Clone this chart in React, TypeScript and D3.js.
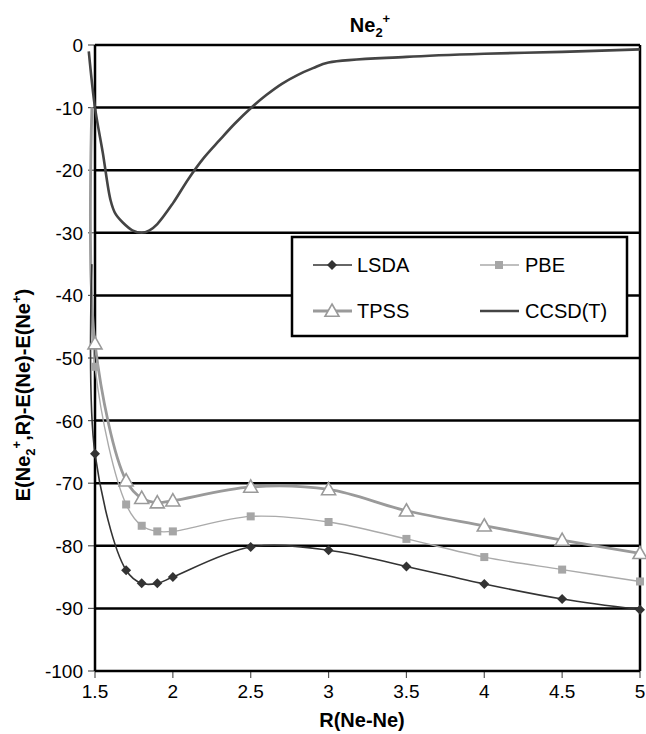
import React from 'react';
import * as d3 from 'd3';

// DFT curves (first point sits just left of the axis minimum, as in the original)
const dftR = [1.48, 1.5, 1.7, 1.8, 1.9, 2.0, 2.5, 3.0, 3.5, 4.0, 4.5, 5.0];
const lsda = [-35, -65.3, -83.9, -86.0, -86.0, -85.0, -80.2, -80.7, -83.3, -86.1, -88.5, -90.2];
const pbe = [-10, -51.4, -73.4, -76.8, -77.7, -77.7, -75.3, -76.2, -78.9, -81.8, -83.8, -85.7];
const tpss = [-10, -47.7, -69.6, -72.4, -73.1, -72.8, -70.6, -71.0, -74.4, -76.8, -79.1, -81.2];

const ccR = [1.46, 1.5, 1.55, 1.6, 1.63, 1.68, 1.74, 1.8, 1.85, 1.9, 2.0, 2.1, 2.2, 2.3, 2.4, 2.5, 2.6, 2.7, 2.8, 2.9, 3.0, 3.5, 4.0, 4.5, 5.0];
const ccsdt = [-1, -10, -17.2, -24.8, -26.9, -28.4, -29.6, -30.0, -29.6, -28.6, -25.3, -21.4, -18.0, -15.2, -12.5, -10.1, -8.0, -6.2, -4.8, -3.7, -2.8, -1.9, -1.4, -1.1, -0.7];

const xTicks = [1.5, 2, 2.5, 3, 3.5, 4, 4.5, 5];
const yTicks = [0, -10, -20, -30, -40, -50, -60, -70, -80, -90, -100];

const W = 646;
const H = 734;
const left = 95;
const right = 640;
const top = 45;
const bottom = 671;

const font = 'Liberation Sans, Arial, sans-serif';

const Diamond = ({ cx, cy, r = 5, fill }) => (
  <path d={`M${cx},${cy - r}L${cx + r},${cy}L${cx},${cy + r}L${cx - r},${cy}Z`} fill={fill} />
);

const Square = ({ cx, cy, s = 8, fill }) => (
  <rect x={cx - s / 2} y={cy - s / 2} width={s} height={s} fill={fill} />
);

const Triangle = ({ cx, cy, s = 7 }) => (
  <path
    d={`M${cx},${cy - s}L${cx + s},${cy + s * 0.75}L${cx - s},${cy + s * 0.75}Z`}
    fill="#fff"
    stroke="#9a9a9a"
    strokeWidth={1.6}
  />
);

const App = () => {
  const x = d3.scaleLinear().domain([1.5, 5]).range([left, right]);
  const y = d3.scaleLinear().domain([-100, 0]).range([bottom, top]);

  const line = d3
    .line<[number, number]>()
    .x((d) => x(d[0]))
    .y((d) => y(d[1]))
    .curve(d3.curveCatmullRom.alpha(0.5));

  const pts = (rs: number[], es: number[]) => rs.map((r, i) => [r, es[i]] as [number, number]);
  const shown = (rs: number[], es: number[]) => pts(rs, es).filter((d) => d[0] >= 1.5);

  return (
    <svg width={W} height={H} style={{ position: 'absolute', left: 0, top: 0 }}>
      <rect width={W} height={H} fill="#fff" />

      {/* gridlines */}
      {yTicks.slice(0, -1).map((t) => (
        <line key={`g${t}`} x1={left} x2={right} y1={y(t)} y2={y(t)} stroke="#000" strokeWidth={2.5} />
      ))}

      {/* y ticks + labels */}
      {yTicks.map((t) => (
        <g key={`y${t}`}>
          <line x1={left - 7} x2={left} y1={y(t)} y2={y(t)} stroke="#555" strokeWidth={1.2} />
          <text x={left - 12} y={y(t) + 7} textAnchor="end" fontFamily={font} fontSize={19}>
            {t}
          </text>
        </g>
      ))}

      {/* x ticks + labels */}
      {xTicks.map((t) => (
        <g key={`x${t}`}>
          <line x1={x(t)} x2={x(t)} y1={bottom} y2={bottom + 7} stroke="#555" strokeWidth={1.2} />
          <text x={x(t)} y={bottom + 27} textAnchor="middle" fontFamily={font} fontSize={19}>
            {t}
          </text>
        </g>
      ))}

      {/* frame */}
      <line x1={right} x2={right} y1={top} y2={bottom} stroke="#000" strokeWidth={2.5} />
      <line x1={left} x2={right} y1={bottom} y2={bottom} stroke="#000" strokeWidth={2.5} />
      <line x1={left} x2={left} y1={top} y2={bottom} stroke="#000" strokeWidth={2.5} />

      {/* series */}
      <path d={line(pts(ccR, ccsdt)) || ''} fill="none" stroke="#444" strokeWidth={2.6} />
      <path d={line(pts(dftR, pbe)) || ''} fill="none" stroke="#aaa" strokeWidth={1.4} />
      <path d={line(pts(dftR, tpss)) || ''} fill="none" stroke="#9a9a9a" strokeWidth={2.8} />
      <path d={line(pts(dftR, lsda)) || ''} fill="none" stroke="#333" strokeWidth={1.6} />

      {shown(dftR, pbe).map((d, i) => (
        <Square key={`p${i}`} cx={x(d[0])} cy={y(d[1])} fill="#a6a6a6" />
      ))}
      {shown(dftR, tpss).map((d, i) => (
        <Triangle key={`t${i}`} cx={x(d[0])} cy={y(d[1])} />
      ))}
      {shown(dftR, lsda).map((d, i) => (
        <Diamond key={`l${i}`} cx={x(d[0])} cy={y(d[1])} fill="#333" />
      ))}

      {/* legend */}
      <g fontFamily={font} fontSize={20}>
        <rect x={292} y={237} width={335} height={99} fill="#fff" stroke="#000" strokeWidth={2.5} />
        <line x1={313} x2={352} y1={265} y2={265} stroke="#333" strokeWidth={1.6} />
        <Diamond cx={332} cy={265} fill="#333" />
        <text x={357} y={272}>LSDA</text>
        <line x1={480} x2={519} y1={265} y2={265} stroke="#aaa" strokeWidth={1.4} />
        <Square cx={499} cy={265} fill="#a6a6a6" />
        <text x={525} y={272}>PBE</text>
        <line x1={313} x2={352} y1={311} y2={311} stroke="#9a9a9a" strokeWidth={2.8} />
        <Triangle cx={332} cy={311} />
        <text x={357} y={318}>TPSS</text>
        <line x1={480} x2={519} y1={311} y2={311} stroke="#444" strokeWidth={2.6} />
        <text x={525} y={318}>CCSD(T)</text>
      </g>

      {/* title */}
      <text x={370} y={32} textAnchor="middle" fontFamily={font} fontSize={20} fontWeight="bold">
        Ne<tspan fontSize={13} dy={5}>2</tspan>
        <tspan fontSize={13} dy={-14}>+</tspan>
      </text>

      {/* axis titles */}
      <text x={362} y={727} textAnchor="middle" fontFamily={font} fontSize={20} fontWeight="bold">
        R(Ne-Ne)
      </text>
      <text
        transform="translate(30,395) rotate(-90)"
        textAnchor="middle"
        fontFamily={font}
        fontSize={20}
        fontWeight="bold"
      >
        E(Ne<tspan fontSize={13} dy={5}>2</tspan>
        <tspan fontSize={13} dy={-14}>+</tspan>
        <tspan dy={9}>,R)-E(Ne)-E(Ne</tspan>
        <tspan fontSize={13} dy={-9}>+</tspan>
        <tspan dy={9}>)</tspan>
      </text>
    </svg>
  );
};

export default App;
